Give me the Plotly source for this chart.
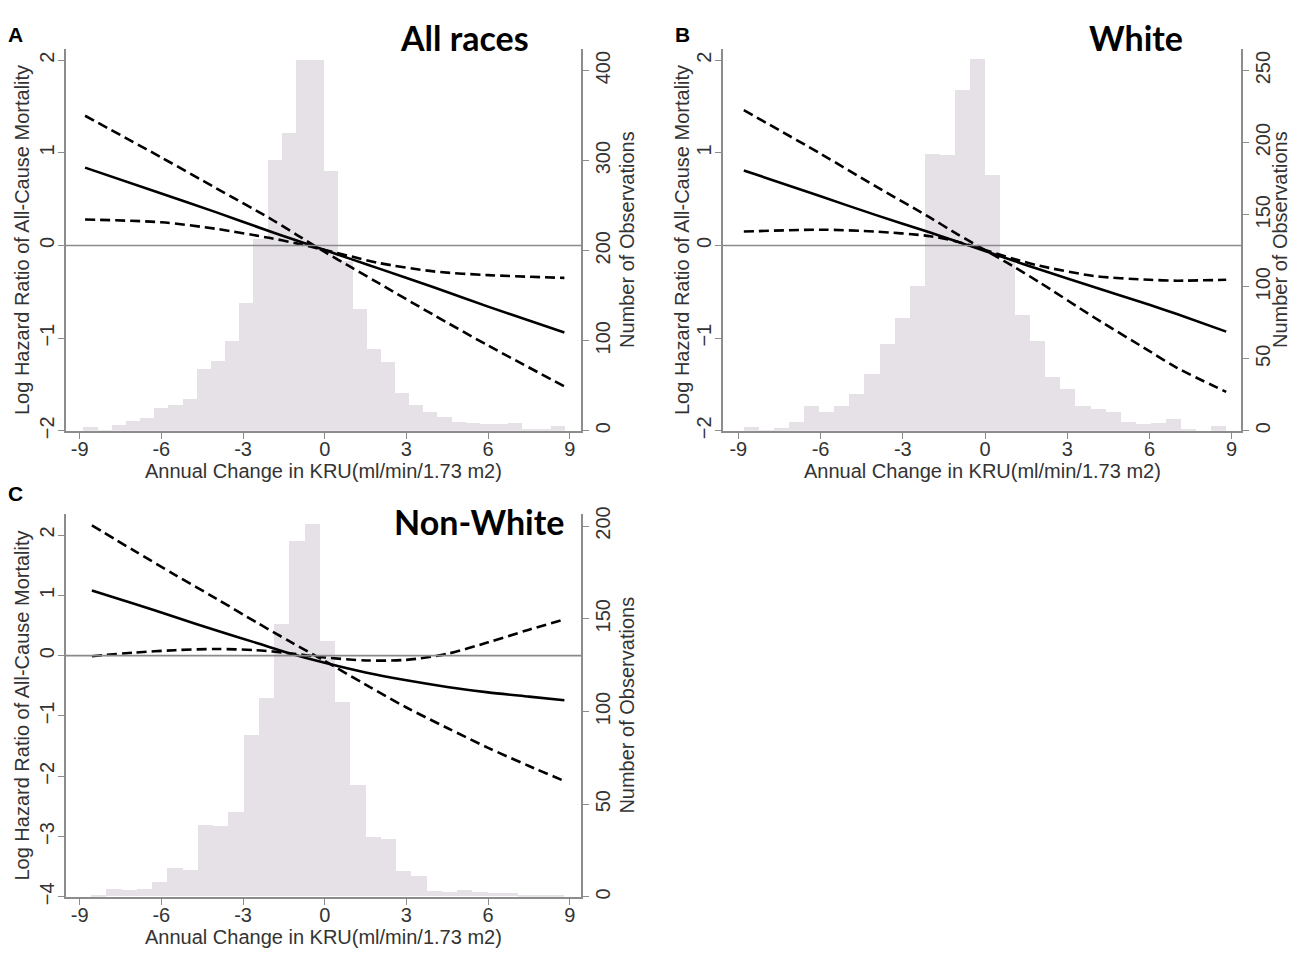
import numpy as np
import plotly.graph_objects as go

# ---------------- data ----------------
x_ticks = [-9, -6, -3, 0, 3, 6, 9]

# Histograms (number of observations per bin)
A_bin_start, A_bin_width = -8.86, 0.52
A_counts = [3.6, 0.5, 6.5, 11, 14, 25, 28, 35, 68, 77, 99, 142, 213, 300, 330, 412, 412,
            288, 188, 135, 91, 76, 42, 28, 20, 15, 9, 8, 7, 7, 8, 2, 2, 5]
B_bin_start, B_bin_width = -8.8, 0.55
B_counts = [2.3, 0.3, 2, 6, 17, 13, 17, 25, 39, 60, 78, 100, 192, 191, 236, 258,
            177, 118, 80, 62, 37, 29, 17, 15, 12.5, 6, 4.5, 5, 8, 0.5, 0, 3]
C_bin_start, C_bin_width = -8.58, 0.56
C_counts = [0.7, 4.2, 3.4, 4.2, 8, 15.4, 14.5, 38.5, 37.8, 45.6, 87, 107, 147, 192, 201,
            138, 105, 60, 32, 31, 13.6, 11.3, 3, 2.5, 3.5, 2.5, 2, 1.8, 0.4, 0.7, 0.4]

# Log hazard ratio curves (fit and 95% CI bounds)
A_x = [-8.8, -6, -4, -2, -1, 0, 1, 2, 4, 6, 8.8]
A_fit = [0.84, 0.56, 0.36, 0.15, 0.05, -0.05, -0.15, -0.25, -0.45, -0.66, -0.94]
A_ci1 = [1.40, 0.95, 0.62, 0.29, 0.11, -0.07, -0.24, -0.41, -0.75, -1.08, -1.52]
A_ci2 = [0.28, 0.25, 0.18, 0.08, 0.02, -0.05, -0.12, -0.19, -0.28, -0.32, -0.35]

B_x = [-8.8, -6, -4, -2, -1, 0, 1, 2, 4, 6, 7, 8.8]
B_fit = [0.81, 0.53, 0.33, 0.14, 0.04, -0.06, -0.16, -0.26, -0.45, -0.64, -0.74, -0.93]
B_ci1 = [1.46, 0.99, 0.64, 0.30, 0.12, -0.05, -0.22, -0.40, -0.78, -1.14, -1.32, -1.58]
B_ci2 = [0.15, 0.17, 0.15, 0.10, 0.04, -0.05, -0.14, -0.22, -0.33, -0.37, -0.38, -0.37]

C_x = [-8.55, -7, -5.5, -4, -2.5, -1.3, 0, 1.5, 3, 4.5, 6, 7.5, 8.8]
C_fit = [1.08, 0.86, 0.64, 0.42, 0.21, 0.04, -0.12, -0.28, -0.41, -0.52, -0.61, -0.68, -0.74]
C_ci1 = [2.16, 1.74, 1.34, 0.95, 0.55, 0.24, -0.09, -0.48, -0.86, -1.20, -1.53, -1.83, -2.08]
C_ci2 = [-0.01, 0.05, 0.09, 0.11, 0.09, 0.04, -0.03, -0.08, -0.07, 0.03, 0.22, 0.43, 0.60]

titles = ["All races", "White", "Non-White"]
letters = ["A", "B", "C"]
x_title = "Annual Change in KRU(ml/min/1.73 m2)"
y_left_title = "Log Hazard Ratio of All-Cause Mortality"
y_right_title = "Number of Observations"

# ---------------- figure ----------------
W, H = 1291, 955
def px(x):
    return x / W
def py(y):
    return 1 - y / H

TXT = "#333333"
AX = "#8c8c8c"
BAR = "#e6e1e7"
FONT = "Liberation Sans"
FS = 20

panels = [
    dict(bs=A_bin_start, bw=A_bin_width, counts=A_counts, x=A_x, fit=A_fit, ci1=A_ci1, ci2=A_ci2,
         xd=[66, 581], yd=[42, 430], xr=[-9.5, 9.41], yl=[-2, 2.117], yr=[0, 423.7],
         ltick=[-2, -1, 0, 1, 2], rtick=[0, 100, 200, 300, 400],
         lt_x=22, rt_x=627, xt_y=471, title_xy=(531, 30), letter_xy=(15, 27)),
    dict(bs=B_bin_start, bw=B_bin_width, counts=B_counts, x=B_x, fit=B_fit, ci1=B_ci1, ci2=B_ci2,
         xd=[723, 1241], yd=[42, 430], xr=[-9.56, 9.34], yl=[-2, 2.117], yr=[0, 264.8],
         ltick=[-2, -1, 0, 1, 2], rtick=[0, 50, 100, 150, 200, 250],
         lt_x=682, rt_x=1280, xt_y=471, title_xy=(1185, 30), letter_xy=(683, 27)),
    dict(bs=C_bin_start, bw=C_bin_width, counts=C_counts, x=C_x, fit=C_fit, ci1=C_ci1, ci2=C_ci2,
         xd=[66, 581], yd=[515, 904], xr=[-9.5, 9.41], yl=[-4, 2.342], yr=[0, 206.3],
         ltick=[-4, -3, -2, -1, 0, 1, 2], rtick=[0, 50, 100, 150, 200],
         lt_x=22, rt_x=627, xt_y=945, title_xy=(566, 522), letter_xy=(15, 494)),
]

fig = go.Figure()
annotations = []
shapes = []
layout = {}

for i, p in enumerate(panels):
    xn = "x" if i == 0 else f"x{i+1}"
    yc = "y" if i == 0 else f"y{2*i+1}"      # counts (base, right)
    yh = f"y{2*i+2}"                          # log HR (overlay, left)
    xkey = "xaxis" if i == 0 else f"xaxis{i+1}"
    yckey = "yaxis" if i == 0 else f"yaxis{2*i+1}"
    yhkey = f"yaxis{2*i+2}"

    counts = np.array(p["counts"], dtype=float)
    centers = p["bs"] + p["bw"] * (np.arange(len(counts)) + 0.5)
    fig.add_trace(go.Bar(x=centers, y=counts, width=p["bw"], marker=dict(color=BAR, line=dict(width=0)),
                         xaxis=xn, yaxis=yc, showlegend=False, hoverinfo="skip"))
    for arr, dash in [(p["ci1"], "10px,5px"), (p["ci2"], "10px,5px"), (p["fit"], "solid")]:
        fig.add_trace(go.Scatter(x=p["x"], y=arr, mode="lines",
                                 line=dict(color="black", width=2.6, dash=dash, shape="spline", smoothing=0.8),
                                 xaxis=xn, yaxis=yh, showlegend=False, hoverinfo="skip"))

    xdom = [px(p["xd"][0]), px(p["xd"][1])]
    ydom = [py(p["yd"][1]), py(p["yd"][0])]
    common = dict(showgrid=False, zeroline=False, showline=True, linecolor=AX, linewidth=1.6,
                  ticks="outside", ticklen=6, tickwidth=1.4, tickcolor=AX,
                  tickfont=dict(family=FONT, size=FS, color=TXT))
    layout[xkey] = dict(domain=xdom, range=p["xr"], anchor=yc, tickvals=x_ticks,
                        ticktext=[str(t) for t in x_ticks], ticklabelstandoff=-7, **common)
    layout[yckey] = dict(domain=ydom, range=p["yr"], anchor=xn, side="right", tickvals=p["rtick"],
                         tickangle=-90, ticklabelstandoff=-3, **common)
    layout[yhkey] = dict(range=p["yl"], anchor=xn, overlaying=yc, side="left", tickvals=p["ltick"],
                         tickangle=-90, ticklabelstandoff=-4, **common)

    shapes.append(dict(type="line", xref=f"{xn} domain", yref=yh, x0=0, x1=1, y0=0, y1=0,
                       line=dict(color="#8a8a8a", width=1.6), layer="above"))

    cx = (p["xd"][0] + p["xd"][1]) / 2
    cy = (p["yd"][0] + p["yd"][1]) / 2
    annotations += [
        dict(text=y_left_title, x=px(p["lt_x"]), y=py(cy), xref="paper", yref="paper", textangle=-90,
             showarrow=False, font=dict(family=FONT, size=FS, color=TXT), xanchor="center", yanchor="middle"),
        dict(text=y_right_title, x=px(p["rt_x"]), y=py(cy), xref="paper", yref="paper", textangle=-90,
             showarrow=False, font=dict(family=FONT, size=FS, color=TXT), xanchor="center", yanchor="middle"),
        dict(text=x_title, x=px(cx), y=py(p["xt_y"]), xref="paper", yref="paper",
             showarrow=False, font=dict(family=FONT, size=FS, color=TXT), xanchor="center", yanchor="middle"),
        dict(text=f"<b>{titles[i]}</b>", x=px(p["title_xy"][0]), y=py(p["title_xy"][1]), xref="paper",
             yref="paper", showarrow=False, font=dict(family="Lato", size=34, color="black"),
             xanchor="right", yanchor="middle"),
        dict(text=f"<b>{letters[i]}</b>", x=px(p["letter_xy"][0]), y=py(p["letter_xy"][1]), xref="paper",
             yref="paper", showarrow=False, font=dict(family=FONT, size=21, color="black"),
             xanchor="center", yanchor="middle"),
    ]

fig.update_layout(width=W, height=H, margin=dict(l=0, r=0, t=0, b=0), paper_bgcolor="white",
                  plot_bgcolor="white", bargap=0, barmode="overlay", annotations=annotations,
                  shapes=shapes, **layout)

fig.write_html("out.html", config={"displayModeBar": False},
               post_script="document.body.style.margin='0';document.body.style.overflow='hidden';")
